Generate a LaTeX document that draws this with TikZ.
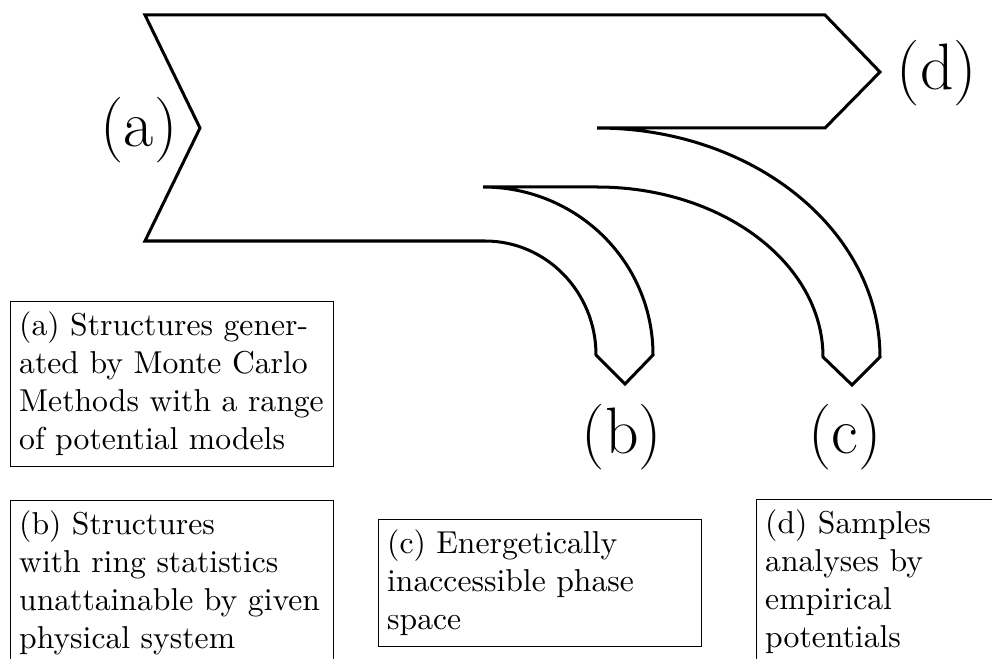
\documentclass[tikz,border=0pt]{standalone}
\begin{document}
\begin{tikzpicture}[x=0.3158pt,y=-0.3158pt,
  flow/.style={draw,line width=0.95pt,line join=miter},
  biglabel/.style={font=\huge,inner sep=0pt},
  textbox/.style={draw,line width=0.4pt,anchor=north west,align=left,text width=96.6pt,inner xsep=2.7pt,inner ysep=3.33pt}]
\useasboundingbox (0,0) rectangle (992,659);
\clip (0,0) rectangle (992,659);
% the branching arrow
\draw[flow] (483,187)
  .. controls (576.9,187) and (653,261.7) .. (653,355)
  -- (625,384) -- (596,355)
  .. controls (596,292) and (546.3,241) .. (485,241)
  -- (145,241) -- (200,128) -- (145,15) -- (825,15) -- (880,72) -- (825,128) -- (597,128)
  .. controls (753.3,128) and (880,230.5) .. (880,357)
  -- (852,385) -- (823,357)
  .. controls (823,263.1) and (721.8,187) .. (597,187)
  -- (483,187);
% labels
\node[biglabel] (la) at (139,130) {(a)};
\node[biglabel] (ld) at (937,73) {(d)};
\node[biglabel] (lb) at (622,437) {(b)};
\node[biglabel] (lc) at (845,437) {(c)};
% text boxes
\node[textbox] (ta) at (10,301) {(a) Structures gener-\\ated by Monte Carlo\\Methods with a range\\of potential models};
\node[textbox] (tb) at (10,500) {(b) Structures\\with ring statistics\\unattainable by given\\physical system};
\node[textbox] (tc) at (378,519) {(c) Energetically\\inaccessible phase\\space};
\node[textbox] (td) at (756,499) {(d) Samples\\analyses by\\empirical\\potentials};
\end{tikzpicture}
\end{document}
